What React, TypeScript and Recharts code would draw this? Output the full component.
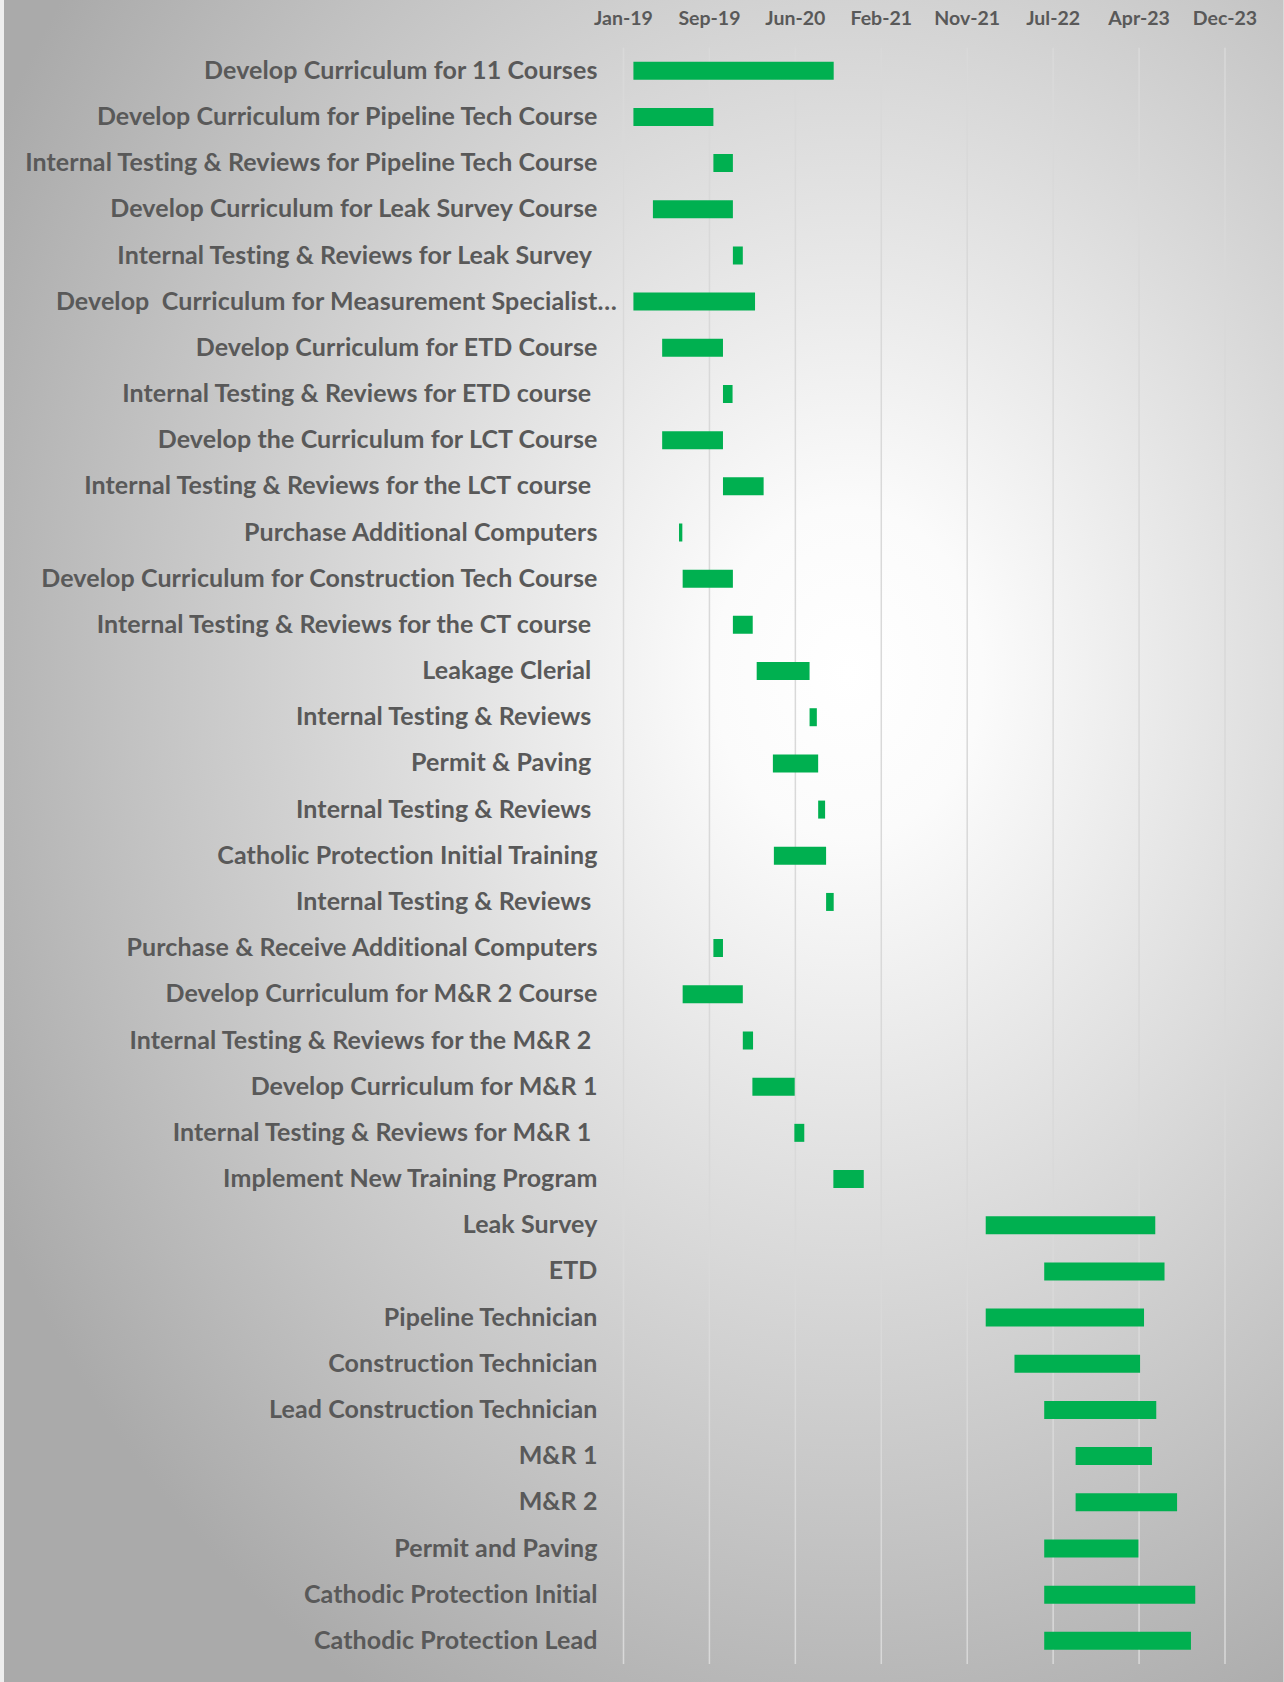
import React from 'react';
import { BarChart, Bar, XAxis, YAxis, CartesianGrid } from 'recharts';

const tasks: string[] = [
  'Develop Curriculum for 11 Courses',
  'Develop Curriculum for Pipeline Tech Course',
  'Internal Testing & Reviews for Pipeline Tech Course',
  'Develop Curriculum for Leak Survey Course',
  'Internal Testing & Reviews for Leak Survey ',
  'Develop  Curriculum for Measurement Specialist\u2026',
  'Develop Curriculum for ETD Course',
  'Internal Testing & Reviews for ETD course ',
  'Develop the Curriculum for LCT Course',
  'Internal Testing & Reviews for the LCT course ',
  'Purchase Additional Computers',
  'Develop Curriculum for Construction Tech Course',
  'Internal Testing & Reviews for the CT course ',
  'Leakage Clerial ',
  'Internal Testing & Reviews ',
  'Permit & Paving ',
  'Internal Testing & Reviews ',
  'Catholic Protection Initial Training',
  'Internal Testing & Reviews ',
  'Purchase & Receive Additional Computers',
  'Develop Curriculum for M&R 2 Course',
  'Internal Testing & Reviews for the M&R 2 ',
  'Develop Curriculum for M&R 1',
  'Internal Testing & Reviews for M&R 1 ',
  'Implement New Training Program',
  'Leak Survey',
  'ETD',
  'Pipeline Technician',
  'Construction Technician',
  'Lead Construction Technician',
  'M&R 1',
  'M&R 2',
  'Permit and Paving',
  'Cathodic Protection Initial',
  'Cathodic Protection Lead',
];

const startDates: string[] = [
  '2019-01-31', '2019-01-31', '2019-09-30', '2019-03-31', '2019-11-28',
  '2019-01-31', '2019-04-28', '2019-10-29', '2019-04-28', '2019-10-29',
  '2019-06-18', '2019-06-29', '2019-11-28', '2020-02-08', '2020-07-17',
  '2020-03-28', '2020-08-12', '2020-03-31', '2020-09-05', '2019-09-30',
  '2019-06-29', '2019-12-28', '2020-01-26', '2020-06-01', '2020-09-27',
  '2022-01-01', '2022-06-27', '2022-01-01', '2022-03-29', '2022-06-27',
  '2022-09-30', '2022-09-30', '2022-06-27', '2022-06-27', '2022-06-27',
];

const endDates: string[] = [
  '2020-09-28', '2019-09-30', '2019-11-28', '2019-11-28', '2019-12-28',
  '2020-02-03', '2019-10-29', '2019-11-27', '2019-10-29', '2020-02-29',
  '2019-06-28', '2019-11-28', '2020-01-27', '2020-07-17', '2020-08-08',
  '2020-08-12', '2020-09-02', '2020-09-05', '2020-09-28', '2019-10-29',
  '2019-12-28', '2020-01-28', '2020-06-02', '2020-07-01', '2020-12-28',
  '2023-05-29', '2023-06-26', '2023-04-25', '2023-04-13', '2023-06-01',
  '2023-05-19', '2023-08-03', '2023-04-08', '2023-09-27', '2023-09-14',
];

const tickLabels: string[] = ['Jan-19', 'Sep-19', 'Jun-20', 'Feb-21', 'Nov-21', 'Jul-22', 'Apr-23', 'Dec-23'];
const AXIS_START = '2019-01-01';
const TICK_STEP_DAYS = 260;

const dayOf = (s: string) => Math.round((Date.parse(s) - Date.parse(AXIS_START)) / 86400000);

const data = tasks.map((name, i) => ({
  idx: i,
  name,
  range: [dayOf(startDates[i]), dayOf(endDates[i])],
}));

const ticks = tickLabels.map((_, i) => i * TICK_STEP_DAYS);

const FONT = 'Lato, "Open Sans", sans-serif';
const TEXT = '#595959';

const YTick = (props: any) => {
  const { x, y, payload } = props;
  const label: string = tasks[payload.value] ?? '';
  const hasEllipsis = label.endsWith('\u2026');
  const main = hasEllipsis ? label.slice(0, -1) : label;
  const common = {
    y,
    dy: '0.32em',
    fill: TEXT,
    fontFamily: FONT,
    fontWeight: 700,
    fontSize: 25,
    letterSpacing: 0.1,
    style: { whiteSpace: 'pre' as const },
  };
  return (
    <g>
      <text x={x} textAnchor="end" xmlSpace="preserve" {...common}>{main}</text>
      {hasEllipsis && (
        <text x={x} textAnchor="start" {...common}>{'\u2026'}</text>
      )}
    </g>
  );
};

export default function App() {
  return (
    <div
      style={{
        position: 'absolute',
        left: 0,
        top: 0,
        width: 1284,
        height: 1682,
        background:
          'radial-gradient(ellipse 75% 70% at 66% 40%, #ffffff 0%, #fbfbfb 14%, #dedede 45%, #c2c2c2 75%, #aaaaaa 100%)',
        boxSizing: 'border-box',
        borderLeft: '4px solid #eeeeee',
        borderRight: '1px solid #d9d9d9',
      }}
    >
      <div style={{ position: 'absolute', left: -4, top: 0 }}>
        <BarChart
          width={1284}
          height={1682}
          data={data}
          layout="vertical"
          margin={{ top: 0, right: 59, bottom: 18, left: 0 }}
          barSize={18}
        >
          <CartesianGrid horizontal={false} vertical stroke="#d9d9d9" strokeWidth={1.5} />
          <XAxis
            type="number"
            orientation="top"
            domain={[0, (tickLabels.length - 1) * TICK_STEP_DAYS]}
            ticks={ticks}
            interval={0}
            allowDataOverflow
            tickFormatter={(v: number) => tickLabels[Math.round(v / TICK_STEP_DAYS)]}
            axisLine={false}
            tickLine={false}
            tickSize={0}
            tickMargin={22.7}
            height={47.7}
            tick={{ fill: TEXT, fontFamily: FONT, fontWeight: 700, fontSize: 19.5 }}
          />
          <YAxis
            type="category"
            dataKey="idx"
            width={623.5}
            interval={0}
            axisLine={false}
            tickLine={false}
            tickSize={0}
            tickMargin={26}
            tick={<YTick />}
          />
          <Bar dataKey="range" fill="#00B050" isAnimationActive={false} />
        </BarChart>
      </div>
    </div>
  );
}
